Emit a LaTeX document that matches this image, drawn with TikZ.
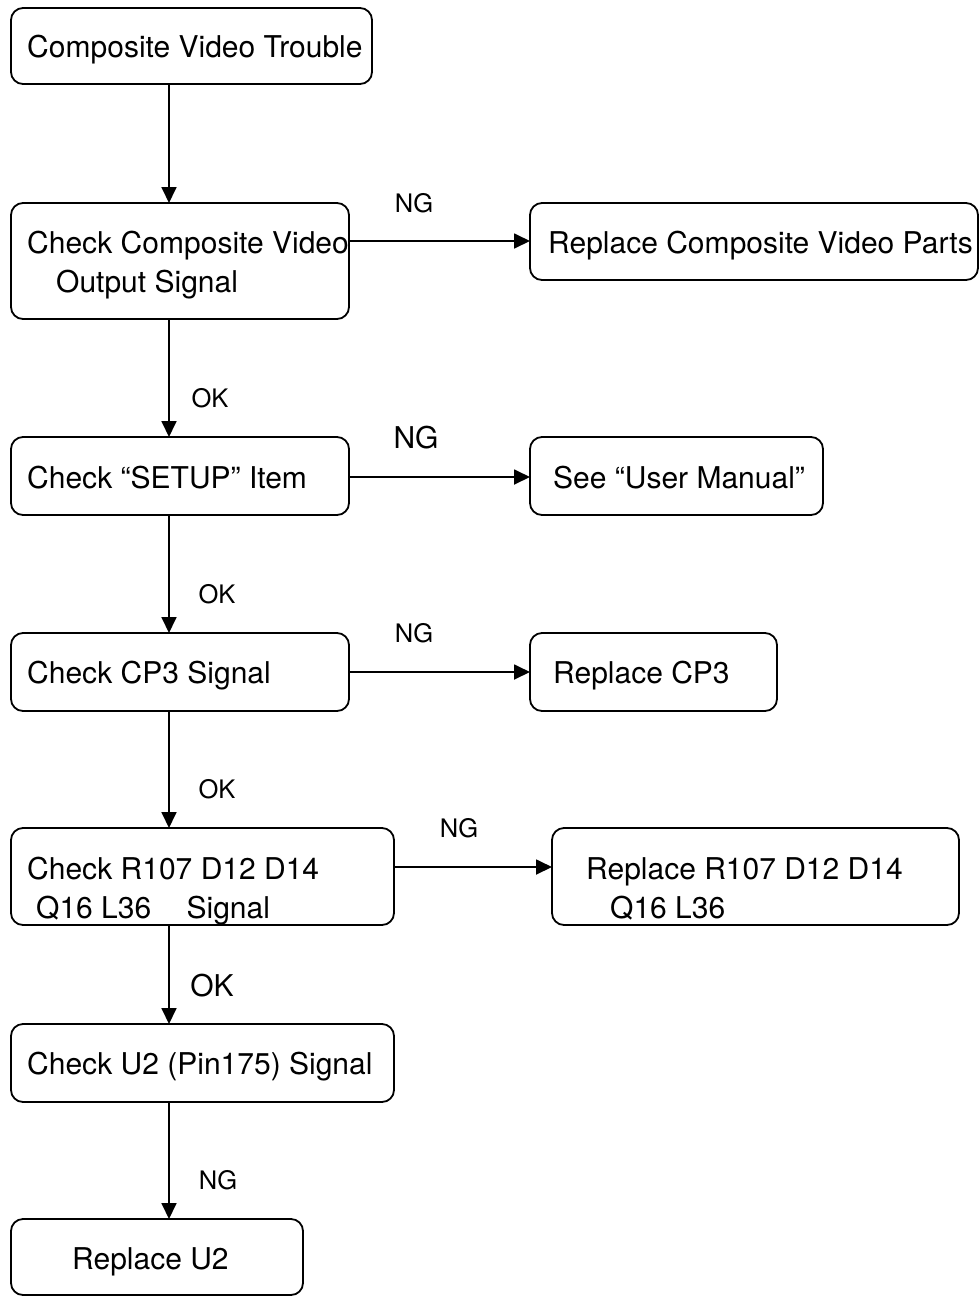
\documentclass[tikz,border=0pt]{standalone}
\usepackage{fontspec}
\setmainfont{TeX Gyre Heros}
\usetikzlibrary{arrows.meta}
\begin{document}
\begin{tikzpicture}[x=1pt,y=-1pt,
  box/.style={draw=black, line width=1.8pt, rounded corners=12pt, rectangle, inner sep=0pt, outer sep=0pt},
  txt/.style={anchor=base west, inner sep=0pt, font=\fontsize{30}{36}\selectfont},
  lbl/.style={anchor=base, inner sep=0pt, font=\fontsize{25.5}{30}\selectfont},
  lblbig/.style={anchor=base, inner sep=0pt, font=\fontsize{30}{36}\selectfont},
  arr/.style={line width=1.8pt, -{Triangle[length=16pt,width=15pt]}}]
\useasboundingbox (0,0) rectangle (980,1296);

% boxes
\node[box, minimum width=361pt, minimum height=76pt] (b1) at (191.5,46) {};
\node[box, minimum width=338pt, minimum height=116pt] (b2) at (180,261) {};
\node[box, minimum width=448pt, minimum height=77pt] (b3) at (754,241.5) {};
\node[box, minimum width=338pt, minimum height=78pt] (b4) at (180,476) {};
\node[box, minimum width=293pt, minimum height=78pt] (b5) at (676.5,476) {};
\node[box, minimum width=338pt, minimum height=78pt] (b6) at (180,672) {};
\node[box, minimum width=247pt, minimum height=78pt] (b7) at (653.5,672) {};
\node[box, minimum width=383pt, minimum height=97pt] (b8) at (202.5,876.5) {};
\node[box, minimum width=407pt, minimum height=97pt] (b9) at (755.5,876.5) {};
\node[box, minimum width=383pt, minimum height=78pt] (b10) at (202.5,1063) {};
\node[box, minimum width=292pt, minimum height=76pt] (b11) at (157,1257) {};

% box texts
\node[txt] (t1) at (27,57) {Composite Video Trouble};
\node[txt] (t2a) at (27,253) {Check Composite Video};
\node[txt] (t2b) at (56,292) {Output Signal};
\node[txt] (t3) at (548,253) {Replace Composite Video Parts};
\node[txt] (t4) at (27,488) {Check “SETUP” Item};
\node[txt] (t5) at (553,488) {See “User Manual”};
\node[txt] (t6) at (27,683) {Check CP3 Signal};
\node[txt] (t7) at (553,683) {Replace CP3};
\node[txt] (t8a) at (27,879) {Check R107 D12 D14};
\node[txt] (t8b) at (36,918) {Q16 L36\hspace{27pt} Signal};
\node[txt] (t9a) at (586,879) {Replace R107 D12 D14};
\node[txt] (t9b) at (610,918) {Q16 L36};
\node[txt] (t10) at (27,1074) {Check U2 (Pin175) Signal};
\node[txt] (t11) at (72,1269) {Replace U2};

% connector levels
\coordinate (vx) at (169,0);
\coordinate (h1) at (0,241);
\coordinate (h2) at (0,477);
\coordinate (h3) at (0,672);
\coordinate (h4) at (0,867);

% vertical flow
\draw[arr] (b1.south -| vx) -- (b2.north -| vx);
\draw[arr] (b2.south -| vx) -- (b4.north -| vx);
\draw[arr] (b4.south -| vx) -- (b6.north -| vx);
\draw[arr] (b6.south -| vx) -- (b8.north -| vx);
\draw[arr] (b8.south -| vx) -- (b10.north -| vx);
\draw[arr] (b10.south -| vx) -- (b11.north -| vx);

% NG branches
\draw[arr] (b2.east |- h1) -- (b3.west |- h1);
\draw[arr] (b4.east |- h2) -- (b5.west |- h2);
\draw[arr] (b6.east |- h3) -- (b7.west |- h3);
\draw[arr] (b8.east |- h4) -- (b9.west |- h4);

% branch labels
\node[lbl] (l1) at (414,212) {NG};
\node[lbl] (l2) at (210,407) {OK};
\node[lblbig] (l3) at (416,448) {NG};
\node[lbl] (l4) at (217,603) {OK};
\node[lbl] (l5) at (414,642) {NG};
\node[lbl] (l6) at (217,798) {OK};
\node[lbl] (l7) at (459,837) {NG};
\node[lblbig] (l8) at (212,996) {OK};
\node[lbl] (l9) at (218,1189) {NG};
\end{tikzpicture}
\end{document}
